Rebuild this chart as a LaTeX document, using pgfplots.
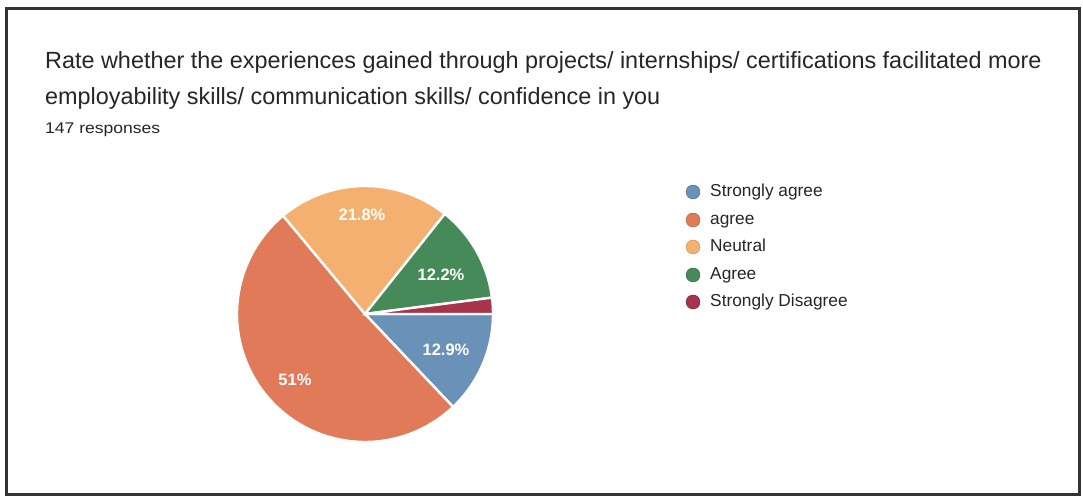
\documentclass[border=0pt]{standalone}
\usepackage{pgfplots}
\pgfplotsset{compat=1.18}
\usepackage{fontspec}
\setmainfont{Liberation Sans}
\definecolor{cSA}{HTML}{6A92B8}
\definecolor{cA}{HTML}{E07A58}
\definecolor{cN}{HTML}{F4B070}
\definecolor{cAg}{HTML}{478A5A}
\definecolor{cSD}{HTML}{A8344C}
\definecolor{txt}{HTML}{262626}
% response counts (147 responses)
\def\nSA{19}\def\nA{75}\def\nN{32}\def\nAg{18}\def\nSD{3}
\pgfmathsetmacro{\aA}{-(360/147)*\nSA}
\pgfmathsetmacro{\aB}{\aA-(360/147)*\nA}
\pgfmathsetmacro{\aC}{\aB-(360/147)*\nN}
\pgfmathsetmacro{\aD}{\aC-(360/147)*\nAg}
\begin{document}
\begin{tikzpicture}
\begin{axis}[
  width=1083pt, height=500pt, scale only axis,
  xmin=0, xmax=1083, ymin=0, ymax=500,
  hide axis, clip=false]
\path[fill=white] (axis cs:0,0) rectangle (axis cs:1083,500);
\draw[line width=3pt, color=black!80] (axis cs:6,5) rectangle (axis cs:1079,491);
% pie slices
\addplot[fill=cSA, draw=white, line width=2.4pt, domain=0:\aA, samples=40, variable=\t]
  ({365+128*cos(t)},{186+128*sin(t)}) -- (axis cs:365,186) -- cycle;
\addplot[fill=cA, draw=white, line width=2.4pt, domain=\aA:\aB, samples=80, variable=\t]
  ({365+128*cos(t)},{186+128*sin(t)}) -- (axis cs:365,186) -- cycle;
\addplot[fill=cN, draw=white, line width=2.4pt, domain=\aB:\aC, samples=40, variable=\t]
  ({365+128*cos(t)},{186+128*sin(t)}) -- (axis cs:365,186) -- cycle;
\addplot[fill=cAg, draw=white, line width=2.4pt, domain=\aC:\aD, samples=40, variable=\t]
  ({365+128*cos(t)},{186+128*sin(t)}) -- (axis cs:365,186) -- cycle;
\addplot[fill=cSD, draw=white, line width=2.4pt, domain=\aD:-360, samples=10, variable=\t]
  ({365+128*cos(t)},{186+128*sin(t)}) -- (axis cs:365,186) -- cycle;
% slice labels
\tikzset{pl/.style={text=white, font=\fontsize{16.5}{18}\selectfont\bfseries}}
\node[pl] at (axis cs:446,150) {12.9\%};
\node[pl] at (axis cs:295,120) {51\%};
\node[pl] at (axis cs:362,285) {21.8\%};
\node[pl] at (axis cs:441,225) {12.2\%};
% legend markers
\addplot[only marks, mark=*, mark size=7pt, color=cSA!70!black, fill=cSA] coordinates {(693,308)};
\addplot[only marks, mark=*, mark size=7pt, color=cA!70!black, fill=cA] coordinates {(693,280)};
\addplot[only marks, mark=*, mark size=7pt, color=cN!80!black, fill=cN] coordinates {(693,253)};
\addplot[only marks, mark=*, mark size=7pt, color=cAg!70!black, fill=cAg] coordinates {(693,225)};
\addplot[only marks, mark=*, mark size=7pt, color=cSD!60!black, fill=cSD] coordinates {(693,198)};
\tikzset{lg/.style={anchor=base west, text=txt, font=\fontsize{17.3}{19}\selectfont, inner sep=0pt}}
\node[lg] at (axis cs:710,303) {Strongly agree};
\node[lg] at (axis cs:710,275) {agree};
\node[lg] at (axis cs:710,248) {Neutral};
\node[lg] at (axis cs:710,220) {Agree};
\node[lg] at (axis cs:710,193) {Strongly Disagree};
% titles
\node[anchor=base west, inner sep=0pt, text=txt, font=\fontsize{23.4}{26}\selectfont] at (axis cs:45,431)
  {Rate whether the experiences gained through projects/ internships/ certifications facilitated more};
\node[anchor=base west, inner sep=0pt, text=txt, font=\fontsize{23.4}{26}\selectfont] at (axis cs:45,395)
  {employability skills/ communication skills/ confidence in you};
\node[anchor=base west, inner sep=0pt, text=txt, font=\fontsize{15.5}{17}\selectfont] at (axis cs:45,366)
  {\scalebox{1.13}[1]{147 responses}};
\end{axis}
\end{tikzpicture}
\end{document}
